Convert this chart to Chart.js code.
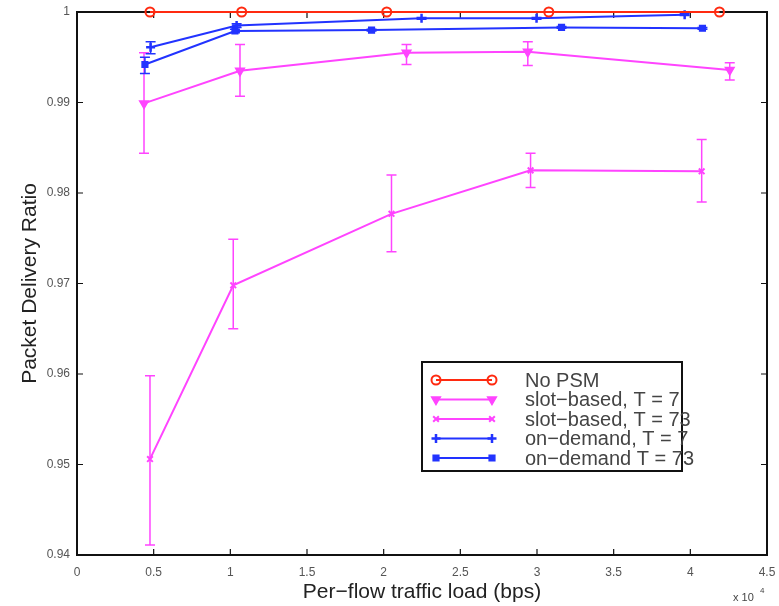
<!DOCTYPE html>
<html>
<head>
<meta charset="utf-8">
<script src="https://cdn.jsdelivr.net/npm/chart.js@4.4.1/dist/chart.umd.min.js"></script>
<style>
  html, body { margin: 0; padding: 0; background: #fff; }
  canvas { display: block; }
</style>
</head>
<body>
<canvas id="pdrChart" width="779" height="606"></canvas>
<script>
// values (x in bps, y = delivery ratio)
const noPsmLoad = [4760, 10740, 20200, 30770, 41900];
const noPsmPdr = [1, 1, 1, 1, 1];

const slotT7Load = [4370, 10630, 21490, 29400, 42570];
const slotT7Pdr = [0.9899, 0.9935, 0.9955, 0.9956, 0.9936];
const slotT7Low = [0.9844, 0.9907, 0.9942, 0.9941, 0.9925];
const slotT7High = [0.9955, 0.9964, 0.9964, 0.9967, 0.9944];

const slotT73Load = [4760, 10190, 20510, 29580, 40740];
const slotT73Pdr = [0.9506, 0.9698, 0.9777, 0.9825, 0.9824];
const slotT73Low = [0.9411, 0.9650, 0.9735, 0.9806, 0.9790];
const slotT73High = [0.9598, 0.9749, 0.9820, 0.9844, 0.9859];

const onDemT7Load = [4800, 10410, 22470, 29970, 39630];
const onDemT7Pdr = [0.9961, 0.9985, 0.9993, 0.9993, 0.9997];
const onDemT7Low = [0.9954, 0.9983, 0.9992, 0.9992, 0.9996];
const onDemT7High = [0.9967, 0.9987, 0.9994, 0.9994, 0.9998];

const onDemT73Load = [4430, 10300, 19210, 31600, 40790];
const onDemT73Pdr = [0.9942, 0.9979, 0.9980, 0.9983, 0.9982];
const onDemT73Low = [0.9932, 0.9977, 0.9979, 0.9982, 0.9981];
const onDemT73High = [0.9950, 0.9981, 0.9981, 0.9984, 0.9983];

const xTickStep = 5000;
const yTickStep = 0.01;

const RED = '#ff2a10';
const MAGENTA = '#ff44ff';
const BLUE = '#2233ff';
const FONT = '"Liberation Sans", Arial, sans-serif';

function points(load, pdr) {
    return load.map((v, i) => ({ x: v, y: pdr[i] }));
}

const errorBars = {
    id: 'errorBars',
    beforeDatasetsDraw(chart) {
        const { ctx, scales: { x, y } } = chart;
        chart.data.datasets.forEach(ds => {
            if (!ds.errLow) return;
            ctx.save();
            ctx.strokeStyle = ds.borderColor;
            ctx.lineWidth = 1.5;
            ctx.beginPath();
            ds.data.forEach((pt, i) => {
                const px = x.getPixelForValue(pt.x);
                const top = y.getPixelForValue(ds.errHigh[i]);
                const bot = y.getPixelForValue(ds.errLow[i]);
                ctx.moveTo(px, top); ctx.lineTo(px, bot);
                ctx.moveTo(px - 5, top); ctx.lineTo(px + 5, top);
                ctx.moveTo(px - 5, bot); ctx.lineTo(px + 5, bot);
            });
            ctx.stroke();
            ctx.restore();
        });
    }
};

// box with inward ticks on all four sides
const matlabAxes = {
    id: 'matlabAxes',
    beforeDatasetsDraw(chart) {
        const { ctx, chartArea: a, scales: { x, y } } = chart;
        ctx.save();
        ctx.strokeStyle = '#111';
        ctx.lineWidth = 1.2;
        ctx.beginPath();
        x.ticks.forEach(t => {
            const px = x.getPixelForValue(t.value);
            ctx.moveTo(px, a.bottom); ctx.lineTo(px, a.bottom - 6);
            ctx.moveTo(px, a.top); ctx.lineTo(px, a.top + 6);
        });
        y.ticks.forEach(t => {
            const py = y.getPixelForValue(t.value);
            ctx.moveTo(a.left, py); ctx.lineTo(a.left + 6, py);
            ctx.moveTo(a.right, py); ctx.lineTo(a.right - 6, py);
        });
        ctx.stroke();
        ctx.lineWidth = 2;
        ctx.strokeRect(a.left, a.top, a.right - a.left, a.bottom - a.top);
        ctx.restore();
    },
    afterDraw(chart) {
        const { ctx, chartArea: a } = chart;
        ctx.save();
        ctx.fillStyle = '#444';
        ctx.font = '11px ' + FONT;
        ctx.fillText('x 10', a.right - 34, 601);
        ctx.font = '8px ' + FONT;
        ctx.fillText('4', a.right - 7, 593);
        ctx.restore();
    }
};

const boxLegend = {
    id: 'boxLegend',
    afterDraw(chart) {
        const { ctx } = chart;
        const left = 422, top = 362, right = 682, bottom = 471;
        ctx.save();
        ctx.fillStyle = '#fff';
        ctx.fillRect(left, top, right - left, bottom - top);
        ctx.strokeStyle = '#111';
        ctx.lineWidth = 2;
        ctx.strokeRect(left, top, right - left, bottom - top);
        ctx.font = '20px ' + FONT;
        ctx.textBaseline = 'middle';
        chart.data.datasets.forEach((ds, i) => {
            const cy = 380 + i * 19.5;
            ctx.strokeStyle = ds.borderColor;
            ctx.lineWidth = 2;
            ctx.beginPath();
            ctx.moveTo(436, cy); ctx.lineTo(492, cy);
            ctx.stroke();
            [436, 492].forEach(px => {
                ctx.fillStyle = ds.pointBackgroundColor;
                ctx.strokeStyle = ds.borderColor;
                ctx.lineWidth = ds.pointBorderWidth;
                Chart.helpers.drawPoint(ctx, {
                    pointStyle: ds.pointStyle,
                    radius: ds.pointRadius,
                    rotation: ds.pointRotation || 0,
                    borderWidth: ds.pointBorderWidth
                }, px, cy);
            });
            ctx.fillStyle = '#444';
            ctx.fillText(ds.label, 525, cy + 1);
        });
        ctx.restore();
    }
};

const ctx = document.getElementById('pdrChart').getContext('2d');

new Chart(ctx, {
    type: 'line',
    data: {
        datasets: [
            {
                label: 'No PSM',
                data: points(noPsmLoad, noPsmPdr),
                borderColor: RED,
                pointStyle: 'circle',
                pointRadius: 4.5,
                pointBorderWidth: 2,
                pointBackgroundColor: 'rgba(255,255,255,0)'
            },
            {
                label: 'slot\u2212based, T = 7',
                data: points(slotT7Load, slotT7Pdr),
                errLow: slotT7Low,
                errHigh: slotT7High,
                borderColor: MAGENTA,
                pointStyle: 'triangle',
                pointRotation: 180,
                pointRadius: 5,
                pointBorderWidth: 1.5,
                pointBackgroundColor: MAGENTA
            },
            {
                label: 'slot\u2212based, T = 73',
                data: points(slotT73Load, slotT73Pdr),
                errLow: slotT73Low,
                errHigh: slotT73High,
                borderColor: MAGENTA,
                pointStyle: 'crossRot',
                pointRadius: 4,
                pointBorderWidth: 2,
                pointBackgroundColor: MAGENTA
            },
            {
                label: 'on\u2212demand, T = 7',
                data: points(onDemT7Load, onDemT7Pdr),
                errLow: onDemT7Low,
                errHigh: onDemT7High,
                borderColor: BLUE,
                pointStyle: 'cross',
                pointRadius: 4.5,
                pointBorderWidth: 2.5,
                pointBackgroundColor: BLUE
            },
            {
                label: 'on\u2212demand T = 73',
                data: points(onDemT73Load, onDemT73Pdr),
                errLow: onDemT73Low,
                errHigh: onDemT73High,
                borderColor: BLUE,
                pointStyle: 'rect',
                pointRadius: 4,
                pointBorderWidth: 1.5,
                pointBackgroundColor: BLUE
            }
        ]
    },
    options: {
        responsive: false,
        devicePixelRatio: 1,
        animation: false,
        layout: { padding: { top: 12, right: 12, left: 0, bottom: 0 } },
        datasets: {
            line: {
                borderWidth: 2,
                tension: 0,
                fill: false,
                clip: false
            }
        },
        plugins: {
            legend: { display: false },
            tooltip: { enabled: false }
        },
        scales: {
            x: {
                type: 'linear',
                min: 0,
                max: 45000,
                grid: { display: false, drawTicks: false },
                border: { display: false },
                afterFit(scale) {
                    scale.height = 51;
                    scale.paddingLeft = 0;
                    scale.paddingRight = 0;
                },
                ticks: {
                    stepSize: xTickStep,
                    padding: 10,
                    color: '#555',
                    font: { family: FONT, size: 12 },
                    maxRotation: 0,
                    callback: v => String(+(v / 10000).toFixed(1))
                },
                title: {
                    display: true,
                    text: 'Per\u2212flow traffic load (bps)',
                    color: '#222',
                    padding: { top: 0, bottom: 1 },
                    font: { family: FONT, size: 21 }
                }
            },
            y: {
                min: 0.94,
                max: 1,
                grid: { display: false, drawTicks: false },
                border: { display: false },
                afterFit(scale) {
                    scale.width = 77;
                    scale.paddingTop = 0;
                    scale.paddingBottom = 0;
                },
                ticks: {
                    stepSize: yTickStep,
                    padding: 7,
                    color: '#555',
                    font: { family: FONT, size: 12 },
                    callback: v => String(+v.toFixed(2))
                },
                title: {
                    display: true,
                    text: 'Packet Delivery Ratio',
                    color: '#222',
                    padding: { top: 18, bottom: 0 },
                    font: { family: FONT, size: 21 }
                }
            }
        }
    },
    plugins: [matlabAxes, errorBars, boxLegend]
});
</script>
</body>
</html>
